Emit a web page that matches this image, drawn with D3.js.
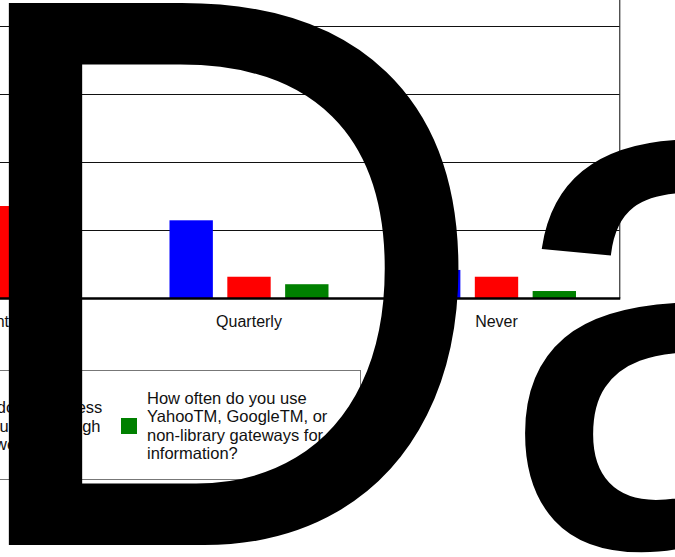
<!DOCTYPE html>
<html>
<head>
<meta charset="utf-8">
<script src="https://cdn.jsdelivr.net/npm/d3@7"></script>
<style>
  html, body { margin: 0; padding: 0; background: #fff; overflow: hidden; }
  svg { display: block; font-family: "Liberation Sans", Arial, sans-serif; }
</style>
</head>
<body>
<svg id="chart" width="675" height="557"></svg>
<script>
// ---- data ----
const categories = ["Monthly", "Quarterly", "Never"];
const seriesNames = [
  "How often do you visit the library in person?",
  "How often do you access library resources through the library website?",
  "How often do you use YahooTM, GoogleTM, or non-library gateways for information?"
];
const seriesColors = ["#0000ff", "#ff0000", "#008000"];
const visitValues   = [14.0, 11.5, 4.2];
const websiteValues = [13.6, 3.2, 3.2];
const gatewayValues = [9.0, 2.1, 1.1];
const yTicks = [0, 10, 20, 30, 40, 50];
const overlayTitle = ["D", "a"];

const seriesValues = [visitValues, websiteValues, gatewayValues];

const svg = d3.select("#chart");
svg.append("rect").attr("width", 675).attr("height", 557).attr("fill", "#fff");

// scales (plot extends beyond the left edge of the visible window)
const x0 = d3.scaleBand().domain(categories).range([-122.25, 620.25]);
const x1 = d3.scaleBand().domain(d3.range(seriesNames.length))
  .range([-79.5, 79.5]).paddingInner(0.25).paddingOuter(0);
const y = d3.scaleLinear().domain([0, 50]).range([298.5, -41.5]);

const plot = svg.append("g");

// gridlines
plot.append("g").selectAll("line")
  .data(yTicks.filter(t => t > 0))
  .join("line")
  .attr("x1", x0.range()[0]).attr("x2", x0.range()[1])
  .attr("y1", d => y(d)).attr("y2", d => y(d))
  .attr("stroke", "#111").attr("stroke-width", 1.2)
  .attr("shape-rendering", "crispEdges");

// right border
plot.append("line")
  .attr("x1", x0.range()[1] - 0.5).attr("x2", x0.range()[1] - 0.5)
  .attr("y1", y(50)).attr("y2", y(0))
  .attr("stroke", "#333").attr("stroke-width", 1.2);

// bars
const groups = plot.append("g").selectAll("g")
  .data(categories)
  .join("g")
  .attr("transform", d => `translate(${x0(d) + x0.bandwidth() / 2},0)`);

groups.selectAll("rect")
  .data((c, ci) => seriesValues.map((vals, si) => ({ si, v: vals[ci] })))
  .join("rect")
  .attr("x", d => x1(d.si))
  .attr("width", x1.bandwidth())
  .attr("y", d => y(d.v))
  .attr("height", d => y(0) - y(d.v))
  .attr("fill", d => seriesColors[d.si]);

// baseline axis
plot.append("line")
  .attr("x1", x0.range()[0]).attr("x2", x0.range()[1])
  .attr("y1", y(0)).attr("y2", y(0))
  .attr("stroke", "#000").attr("stroke-width", 2.5);

// category labels
const xAxis = d3.axisBottom(x0).tickSize(0).tickPadding(0);
const xg = plot.append("g").attr("transform", `translate(0,${y(0)})`).call(xAxis);
xg.select(".domain").remove();
xg.selectAll("text")
  .attr("y", 28).attr("dy", 0)
  .attr("font-size", 16).attr("fill", "#111")
  .attr("font-family", "Liberation Sans, Arial, sans-serif");

// legend
const legend = svg.append("g");
legend.append("rect")
  .attr("x", -340.5).attr("y", 370.5)
  .attr("width", 701).attr("height", 109)
  .attr("fill", "#fff").attr("stroke", "#777").attr("stroke-width", 1);

const lineH = 18.2, midY = 426;
const itemX = [121 - 229 - 223, 121 - 229, 121];
function wrapWords(text, maxW, fs) {
  const tmp = svg.append("text").attr("font-size", fs);
  const words = text.split(" ");
  const lines = [];
  let cur = "";
  words.forEach(w => {
    const test = cur ? cur + " " + w : w;
    tmp.text(test);
    if (tmp.node().getComputedTextLength() > maxW && cur) { lines.push(cur); cur = w; }
    else cur = test;
  });
  if (cur) lines.push(cur);
  tmp.remove();
  return lines;
}
seriesNames.forEach((name, i) => {
  const gx = itemX[i];
  legend.append("rect")
    .attr("x", gx).attr("y", midY - 8)
    .attr("width", 16).attr("height", 16)
    .attr("fill", seriesColors[i]);
  const lines = wrapWords(name, 188, 16.5);
  const t = legend.append("text")
    .attr("font-size", 16.5).attr("fill", "#111");
  const first = midY - (lines.length - 1) / 2 * lineH + 5.5;
  lines.forEach((ln, k) => {
    t.append("tspan").attr("x", gx + 26).attr("y", first + k * lineH).text(ln);
  });
});

// huge overlay text
const big = svg.append("text")
  .attr("transform", "translate(-51.5,543.5) scale(1,1.039)")
  .attr("x", 0).attr("y", 0)
  .attr("font-family", "Liberation Sans, Arial, sans-serif")
  .attr("fill", "#000")
  .attr("stroke", "#000").attr("stroke-width", 3)
  .attr("stroke-linejoin", "miter");
big.append("tspan").attr("font-size", 754).text(overlayTitle[0]);
big.append("tspan").attr("font-size", 720).attr("dx", 3).text(overlayTitle[1]);
</script>
</body>
</html>
